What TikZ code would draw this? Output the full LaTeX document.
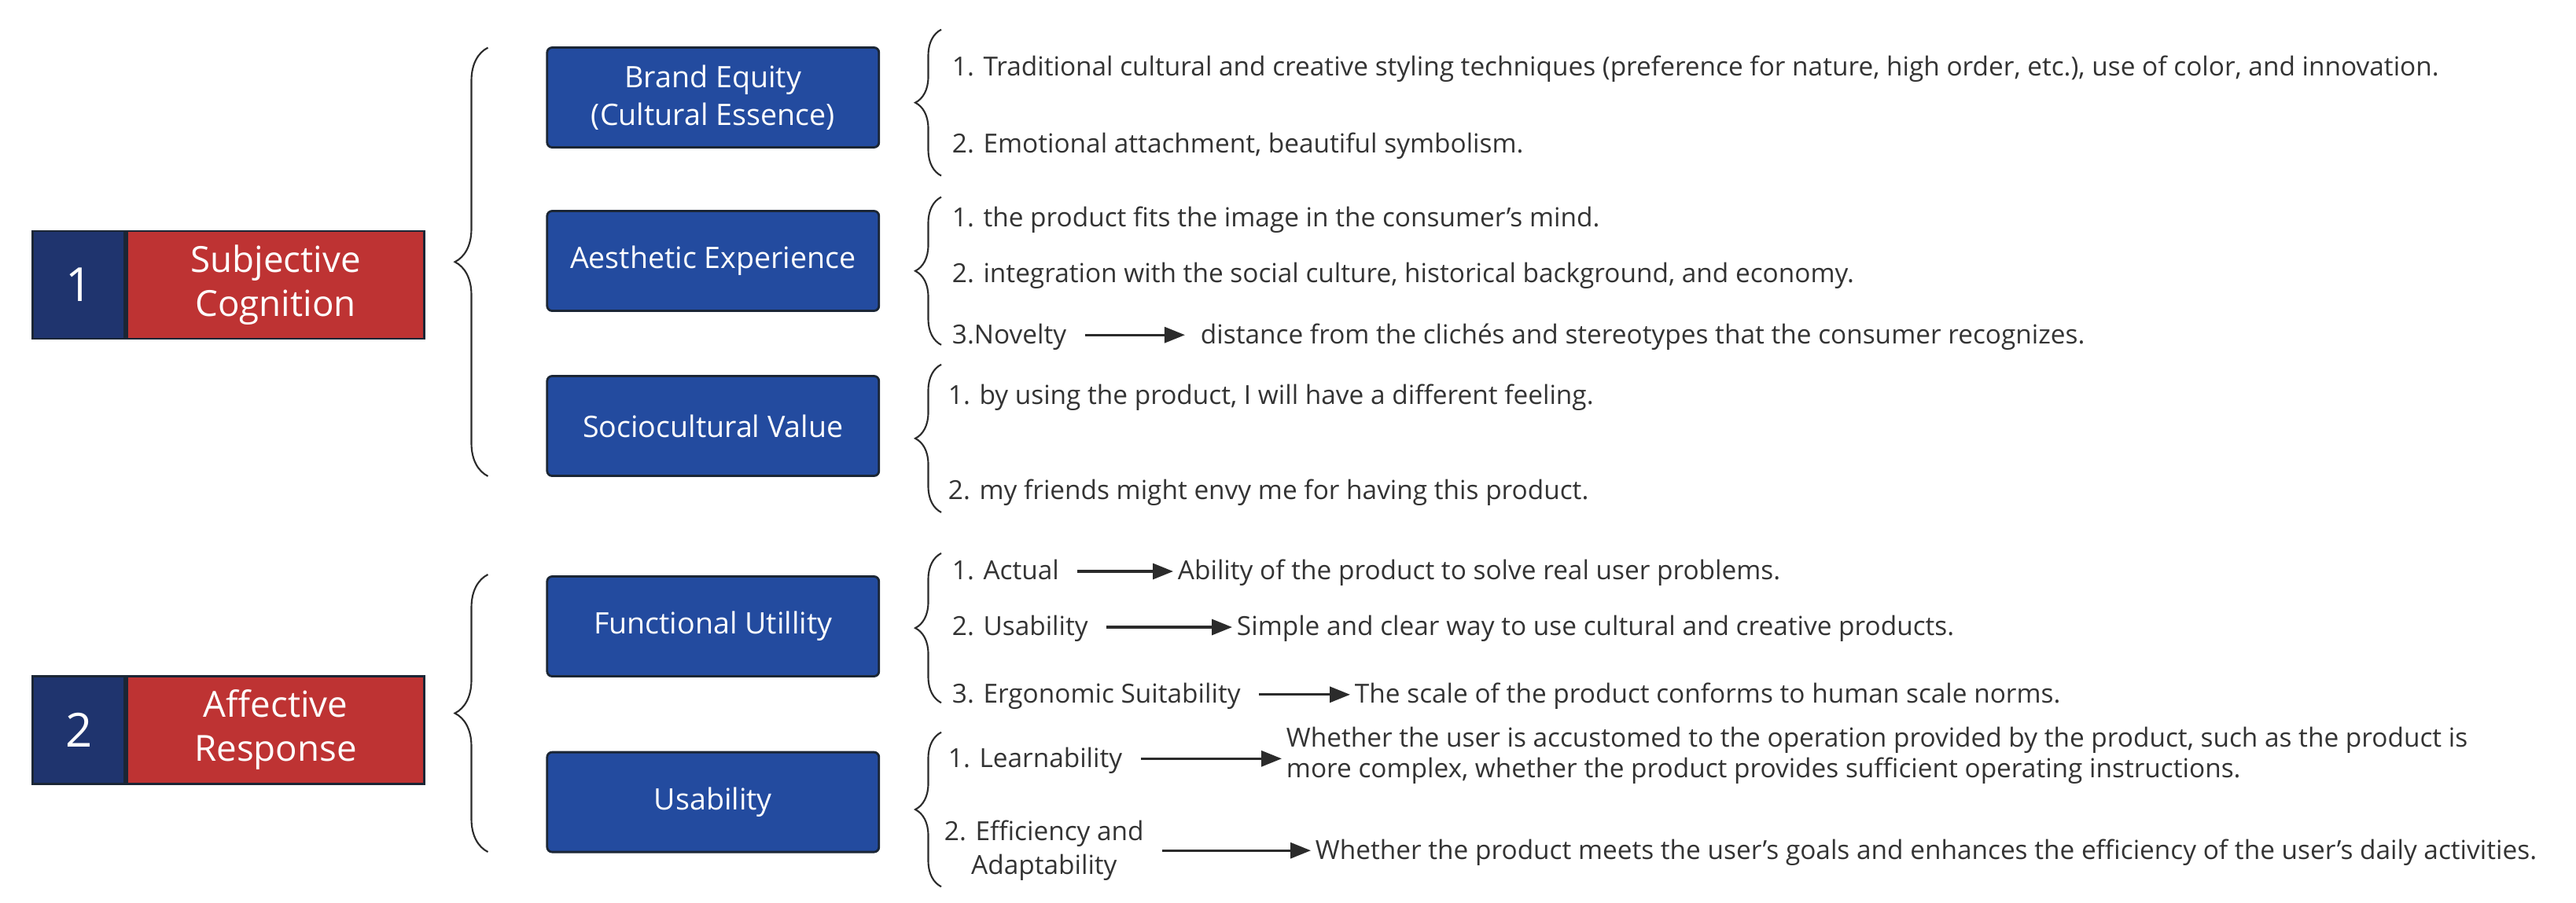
\documentclass[tikz,border=0pt]{standalone}
\usepackage{fontspec}
\setmainfont{Open Sans}
\usetikzlibrary{arrows.meta,positioning,calc,decorations.pathreplacing}
\definecolor{navyblue}{HTML}{1F346E}
\definecolor{catred}{HTML}{BE3333}
\definecolor{dimblue}{HTML}{234B9F}
\definecolor{edgedark}{HTML}{1B2635}
\definecolor{txtgray}{HTML}{333333}
\definecolor{bracegray}{HTML}{2B2B2B}

\begin{document}
\begin{tikzpicture}[
    node distance=0.7cm,
    numbox/.style={rectangle, draw=edgedark, line width=0.8pt, fill=navyblue, text=white, minimum width=1.17cm, minimum height=1.37cm, inner sep=0pt, font=\fontsize{17}{20}\selectfont},
    catbox/.style={rectangle, draw=edgedark, line width=0.8pt, fill=catred, text=white, minimum width=3.78cm, minimum height=1.37cm, inner sep=0pt, align=center, font=\fontsize{13}{16}\selectfont},
    dimbox/.style={rectangle, draw=edgedark, line width=0.8pt, fill=dimblue, text=white, minimum width=4.22cm, minimum height=1.27cm, rounded corners=1.8pt, align=center, font=\fontsize{10.7}{13.6}\selectfont},
    itemtxt/.style={anchor=west, inner sep=1.5pt, text=txtgray, font=\fontsize{9.5}{11}\selectfont, text height=1.6ex, text depth=.45ex},
    itemblock/.style={anchor=west, inner sep=1.5pt, text=txtgray, font=\fontsize{9.5}{11}\selectfont},
    bigbrace/.style={decorate, decoration={brace, amplitude=0.42cm}, draw=bracegray, line width=0.6pt},
    smallbrace/.style={decorate, decoration={brace, amplitude=0.33cm}, draw=bracegray, line width=0.6pt},
    arr/.style={-{Triangle[length=2.6mm, width=2mm]}, line width=0.9pt, draw=bracegray, shorten <=5pt}
]
    \useasboundingbox (0,0) rectangle (32.76,-11.48);

    % left categories
    \node[numbox] (n1) at (1.003,-3.625) {1};
    \node[catbox, right=0pt of n1] (c1) {Subjective\\Cognition};
    \node[numbox] (n2) at (1.003,-9.287) {2};
    \node[catbox, right=0pt of n2] (c2) {Affective\\Response};

    % big braces
    \coordinate (g1b) at (6.205,-6.059);
    \coordinate (g1t) at (6.205,-0.606);
    \coordinate (g2b) at (6.205,-10.84);
    \coordinate (g2t) at (6.205,-7.31);
    \draw[bigbrace] (g1b) -- (g1t);
    \draw[bigbrace] (g2b) -- (g2t);

    % dimensions
    \node[dimbox] (brand) at (9.068,-1.24) {Brand Equity\\(Cultural Essence)};
    \node[dimbox] (aesth) at (9.068,-3.32) {Aesthetic Experience};
    \node[dimbox] (socio) at (9.068,-5.42) {Sociocultural Value};
    \node[dimbox] (func) at (9.068,-7.97) {Functional Utillity};
    \node[dimbox] (usab) at (9.068,-10.206) {Usability};

    % small braces
    \foreach \nm/\lo/\hi in {br/-2.236/-0.376, ae/-4.388/-2.507, so/-6.519/-4.638, fu/-8.942/-7.04, us/-11.282/-9.318} {
        \coordinate (\nm b) at (11.97,\lo);
        \coordinate (\nm t) at (11.97,\hi);
        \draw[smallbrace] (\nm b) -- (\nm t);
    }

    % items
    \node[itemtxt] (b1) at (12.05,-0.857) {1. Traditional cultural and creative styling techniques (preference for nature, high order, etc.), use of color, and innovation.};
    \node[itemtxt] (b2) at (12.05,-1.839) {2. Emotional attachment, beautiful symbolism.};

    \node[itemtxt] (a1) at (12.05,-2.779) {1. the product fits the image in the consumer's mind.};
    \node[itemtxt] (a2) at (12.05,-3.489) {2. integration with the social culture, historical background, and economy.};
    \node[itemtxt] (a3) at (12.05,-4.262) {3.Novelty};
    \node[itemtxt] (a3d) at (15.21,-4.262) {distance from the clichés and stereotypes that the consumer recognizes.};

    \node[itemtxt] (s1) at (12.0,-5.035) {1. by using the product, I will have a different feeling.};
    \node[itemtxt] (s2) at (12.0,-6.247) {2. my friends might envy me for having this product.};

    \node[itemtxt] (f1) at (12.05,-7.27) {1. Actual};
    \node[itemtxt] (f1d) at (14.92,-7.27) {Ability of the product to solve real user problems.};
    \node[itemtxt] (f2) at (12.05,-7.98) {2. Usability};
    \node[itemtxt] (f2d) at (15.67,-7.98) {Simple and clear way to use cultural and creative products.};
    \node[itemtxt] (f3) at (12.05,-8.838) {3. Ergonomic Suitability};
    \node[itemtxt] (f3d) at (17.17,-8.838) {The scale of the product conforms to human scale norms.};

    \node[itemtxt] (u1) at (12.0,-9.653) {1. Learnability};
    \node[itemblock, align=left] (u1d) at (16.30,-9.61) {Whether the user is accustomed to the operation provided by the product, such as the product is\\more complex, whether the product provides sufficient operating instructions.};
    \node[itemblock, align=center, font=\fontsize{9.5}{12}\selectfont] (u2) at (11.95,-10.822) {2. Efficiency and\\Adaptability};
    \node[itemtxt] (u2d) at (16.67,-10.822) {Whether the product meets the user's goals and enhances the efficiency of the user's daily activities.};

    % arrows
    \draw[arr, shorten >=4pt] (a3.east) -- (a3d.west);
    \draw[arr] (f1.east) -- (f1d.west);
    \draw[arr] (f2.east) -- (f2d.west);
    \draw[arr] (f3.east) -- (f3d.west);
    \draw[arr] (u1.east) -- (u1.east -| u1d.west);
    \draw[arr] (u2.east) -- (u2.east -| u2d.west);
\end{tikzpicture}
\end{document}
